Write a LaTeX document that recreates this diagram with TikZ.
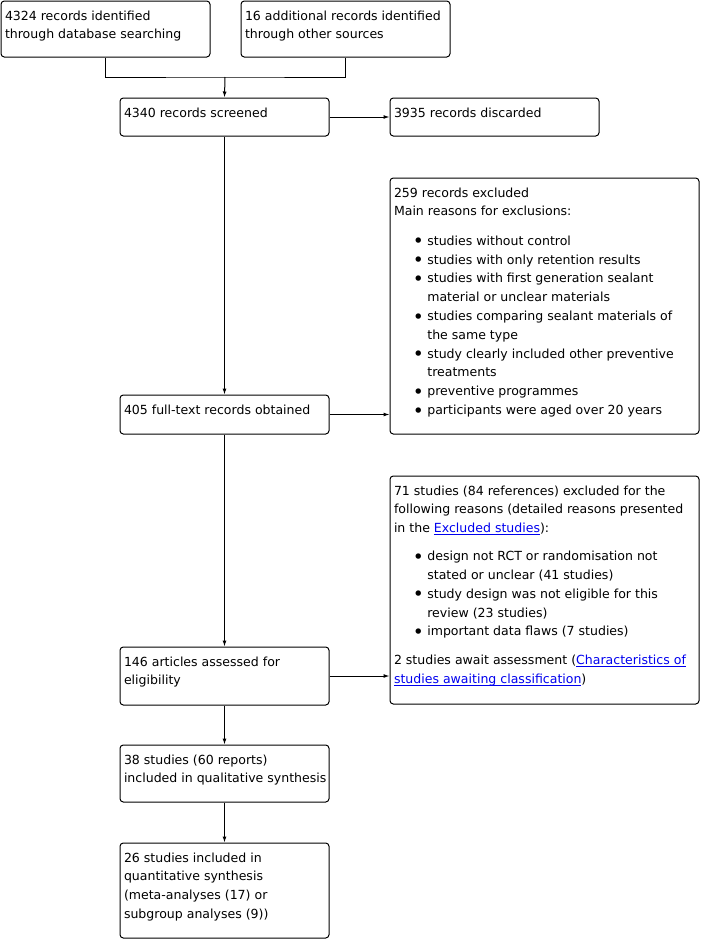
\documentclass[tikz,border=0pt]{standalone}
\usepackage{fontspec}
\setmainfont{DejaVu Sans}
\usepackage{tikz}
\usetikzlibrary{positioning, fit, arrows.meta}
\usepackage{xcolor}
\definecolor{linkblue}{RGB}{0,0,238}

\newlength{\lnkwd}
\newcommand{\bul}{\makebox[25pt][l]{\hspace{14.2pt}\raisebox{-1.9pt}{\fontsize{14}{14}\selectfont\textbullet}}}
\newcommand{\cont}{\hspace*{25pt}}
\newcommand{\lnk}[1]{\settowidth{\lnkwd}{#1}\textcolor{linkblue}{\rlap{\rule[-1.5pt]{\lnkwd}{0.7pt}}#1}}

\begin{document}
\begin{tikzpicture}[x=0.75pt, y=-0.75pt, line width=0.75pt,
        box/.style={draw, rounded corners=2.5pt, inner sep=0pt},
        txt/.style={anchor=north west, inner sep=0pt, align=left, font=\fontsize{9.4}{14.1}\selectfont},
        arr/.style={-{Latex[length=4.5pt, width=3pt]}}]

        \useasboundingbox (0,0) rectangle (702,939);

        % Boxes, placed by their corners in pixels
        \node[box, fit={(1,1) (210,57)}] (dbase) {};
        \node[box, fit={(241,1) (450,57)}] (other) {};
        \node[box, fit={(120,98) (329,136)}] (screened) {};
        \node[box, fit={(390,98) (599,136)}] (discarded) {};
        \node[box, fit={(390,178) (699,434)}] (excluded) {};
        \node[box, fit={(120,395) (329,434)}] (fulltext) {};
        \node[box, fit={(390,476) (699,704)}] (studiesout) {};
        \node[box, fit={(120,647) (329,705)}] (assessed) {};
        \node[box, fit={(120,745) (329,802)}] (qualitative) {};
        \node[box, fit={(120,843) (329,938)}] (quantitative) {};

        % Texts
        \node[txt] (dbasetxt) at ([shift={(4,9.5)}]dbase.north west) {4324 records identified\\through database searching};
        \node[txt] (othertxt) at ([shift={(4,9.5)}]other.north west) {16 additional records identified\\through other sources};
        \node[txt] (screenedtxt) at ([shift={(4,9.5)}]screened.north west) {4340 records screened};
        \node[txt] (discardedtxt) at ([shift={(4,9.5)}]discarded.north west) {3935 records discarded};
        \node[txt] (excludedtxt) at ([shift={(4,9.5)}]excluded.north west) {259 records excluded\\
            Main reasons for exclusions:\\[8pt]
            \bul studies without control\\
            \bul studies with only retention results\\
            \bul studies with first generation sealant\\
            \cont material or unclear materials\\
            \bul studies comparing sealant materials of\\
            \cont the same type\\
            \bul study clearly included other preventive\\
            \cont treatments\\
            \bul preventive programmes\\
            \bul participants were aged over 20 years};
        \node[txt] (fulltexttxt) at ([shift={(4,9.5)}]fulltext.north west) {405 full-text records obtained};
        \node[txt] (studiesouttxt) at ([shift={(4,9.5)}]studiesout.north west) {71 studies (84 references) excluded for the\\
            following reasons (detailed reasons presented\\
            in the \lnk{Excluded studies}):\\[7pt]
            \bul design not RCT or randomisation not\\
            \cont stated or unclear (41 studies)\\
            \bul study design was not eligible for this\\
            \cont review (23 studies)\\
            \bul important data flaws (7 studies)\\[7.5pt]
            2 studies await assessment (\lnk{Characteristics of}\\
            \lnk{studies awaiting classification})};
        \node[txt] (assessedtxt) at ([shift={(4,9.5)}]assessed.north west) {146 articles assessed for\\eligibility};
        \node[txt] (qualitativetxt) at ([shift={(4,9.5)}]qualitative.north west) {38 studies (60 reports)\\included in qualitative synthesis};
        \node[txt] (quantitativetxt) at ([shift={(4,9.5)}]quantitative.north west) {26 studies included in\\quantitative synthesis\\(meta-analyses (17) or\\subgroup analyses (9))};

        % Connectors
        \coordinate (join) at (225,77);
        \draw (dbase.south) |- (join) -| (other.south);
        \draw[arr] (join) -- (screened.north);
        \draw[arr] (screened.east) -- (screened.east -| discarded.west);
        \draw[arr] (screened.south) -- (fulltext.north);
        \draw[arr] (fulltext.east) -- (fulltext.east -| excluded.west);
        \draw[arr] (fulltext.south) -- (assessed.north);
        \draw[arr] (assessed.east) -- (assessed.east -| studiesout.west);
        \draw[arr] (assessed.south) -- (qualitative.north);
        \draw[arr] (qualitative.south) -- (quantitative.north);

    \end{tikzpicture}
\end{document}
